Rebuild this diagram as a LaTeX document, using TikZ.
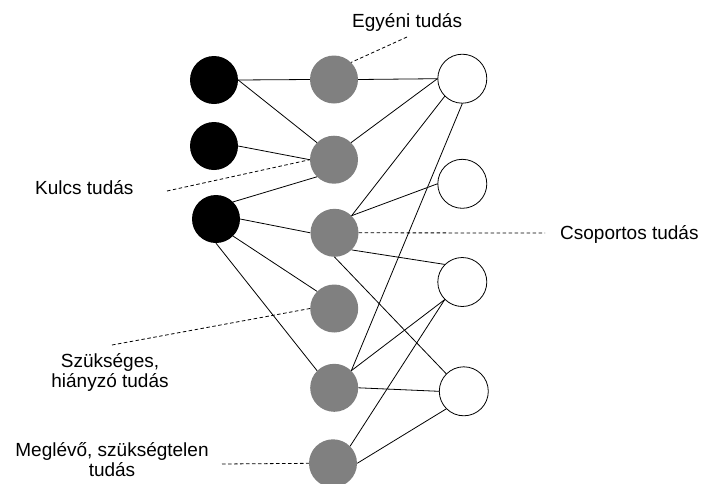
\documentclass[tikz,border=0pt]{standalone}
\usepackage{fontspec}
\setmainfont{Liberation Sans}
\definecolor{nodegray}{RGB}{128,128,128}
\begin{document}
\begin{tikzpicture}[x=1pt,y=-1pt,
  blk/.style={circle,fill=black,minimum size=48pt,inner sep=0pt},
  gry/.style={circle,fill=nodegray,minimum size=48pt,inner sep=0pt},
  wht/.style={circle,draw=black,fill=white,line width=0.8pt,minimum size=49pt,inner sep=0pt},
  link/.style={line width=0.8pt},
  lead/.style={line width=0.8pt,dash pattern=on 3.5pt off 2.5pt},
  lbl/.style={font=\fontsize{19}{20}\selectfont,inner sep=0pt}]
\useasboundingbox (0,0) rectangle (702,483);
\clip (0,0) rectangle (702,483);
% nodes
\node[blk] (B1) at (214,80) {};
\node[blk] (B2) at (214,146) {};
\node[blk] (B3) at (216,219) {};
\node[gry] (G1) at (334,79.5) {};
\node[gry] (G2) at (334,159.7) {};
\node[gry] (G3) at (334.5,232.8) {};
\node[gry] (G4) at (334.2,308.5) {};
\node[gry] (G5) at (334.2,387.8) {};
\node[gry] (G6) at (333,463.3) {};
\node[wht] (W1) at (462.3,78.7) {};
\node[wht] (W2) at (462.3,183.8) {};
\node[wht] (W3) at (462.3,282) {};
\node[wht] (W4) at (463.8,391.3) {};
% connectors
\draw[link] (B1.east) -- (G1.west);
\draw[link] (B1.east) -- (G2.135);
\draw[link] (B2.east) -- (G2.west);
\draw[link] (B3.45) -- (G2.225);
\draw[link] (B3.east) -- (G3.west);
\draw[link] (B3.-45) -- (G4.135);
\draw[link] (B3.south) -- (G5.135);
\draw[link] (G1.east) -- (W1.west);
\draw[link] (G2.45) -- (W1.west);
\draw[link] (G3.45) -- (W1.225);
\draw[link] (G3.45) -- (W2.west);
\draw[link] (G3.-45) -- (W3.135);
\draw[link] (G3.south) -- (W4.135);
\draw[link] (W1.south) -- (G5.45);
\draw[link] (G5.45) -- (W3.225);
\draw[link] (G5.east) -- (W4.west);
\draw[link] (G6.45) -- (W3.225);
\draw[link] (G6.east) -- (W4.225);
% labels
\node[lbl,anchor=base west] (Legy) at (352,27.3) {Egyéni tudás};
\node[lbl,anchor=base west] (Lkul) at (35,194) {Kulcs tudás};
\node[lbl,anchor=base west] (Lcso) at (560,239.3) {Csoportos tudás};
\node[lbl,anchor=base,align=center] (Lszu) at (110,387) {Szükséges,\\hiányzó tudás};
\node[lbl,anchor=base,align=center] (Lmeg) at (112,476) {Meglévő, szükségtelen\\tudás};
% leaders
\coordinate (Cegy) at (407,37);
\coordinate (Ckul) at (167,191);
\coordinate (Ccso) at (545,233);
\coordinate (Cszu) at (112,345);
\coordinate (Cmeg) at (222,464);
\draw[lead] (Cegy) -- (G1.45);
\draw[lead] (Ckul) -- (G2.west);
\draw[lead] (G3.east) -- (Ccso);
\draw[lead] (Cszu) -- (G4.west);
\draw[lead] (Cmeg) -- (G6.west);
\end{tikzpicture}
\end{document}
